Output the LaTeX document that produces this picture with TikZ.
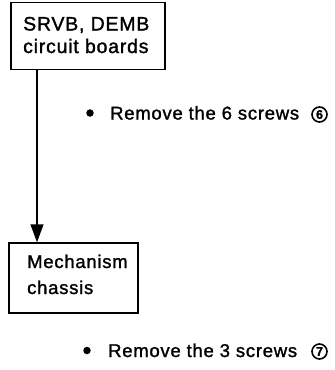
\documentclass[tikz,border=0pt]{standalone}
\usepackage{fontspec}
\setmainfont{Liberation Sans}[LetterSpace=4,FakeBold=1.4]
\usetikzlibrary{arrows.meta}

\begin{document}
\begin{tikzpicture}[x=1pt,y=-1pt,font=\fontsize{18.5}{23}\selectfont,
  >={Triangle[length=18pt,width=13pt]}]
 \useasboundingbox (0,0) rectangle (335,370);
 \tikzset{
  box/.style={draw,line width=1.5pt,inner sep=0pt},
  line/.style={anchor=base west,inner sep=0pt},
  dot/.style={circle,fill,inner sep=0pt,minimum size=7.5pt},
  num/.style={draw,circle,line width=1.6pt,inner sep=0pt,minimum size=15pt,
              font=\fontsize{12.5}{12.5}\selectfont\bfseries},
 }
 % upper stage
 \node[box,minimum width=154pt,minimum height=67pt] (boards) at (88,36) {};
 \node[line,font=\fontsize{19.5}{23}\selectfont] (boardsa) at (23,30.5) {SRVB, DEMB};
 \node[line,font=\fontsize{19.5}{23}\selectfont] (boardsb) at (23,53) {circuit boards};
 % lower stage
 \node[box,minimum width=129pt,minimum height=70pt] (chassis) at (73.5,278) {};
 \node[line] (chassisa) at (27,268) {Mechanism};
 \node[line] (chassisb) at (27,294) {chassis};
 % step from one stage to the next
 \coordinate (lx) at (37,0);
 \draw[->,line width=1.5pt] (boards.south -| lx) -- (chassis.north -| lx);
 % steps
 \node[dot] (dota) at (90,113) {};
 \node[line] (stepa) at (110,119.5) {Remove the 6 screws};
 \node[num] (numa) at (319.5,114.5) {6};
 \node[dot] (dotb) at (87,350.5) {};
 \node[line] (stepb) at (108,357) {Remove the 3 screws};
 \node[num] (numb) at (319.5,351.5) {7};
\end{tikzpicture}
\end{document}
